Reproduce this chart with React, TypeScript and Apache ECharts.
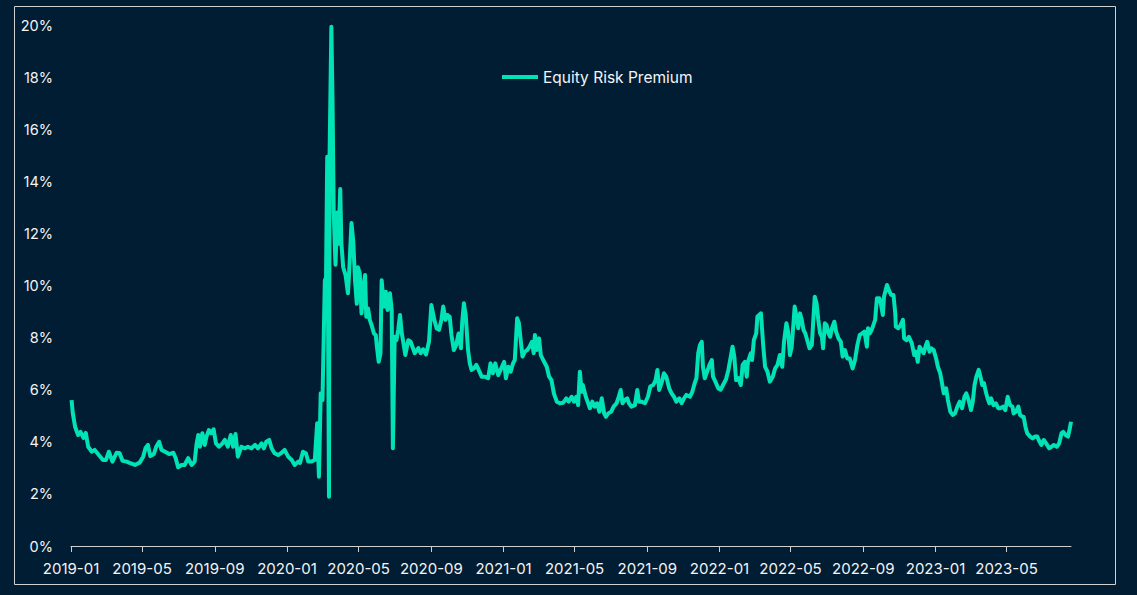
import React, { useEffect, useRef } from "react";
import * as echarts from "echarts";

const seriesName = "Equity Risk Premium";

const tickLabels = [
  "2019-01", "2019-05", "2019-09", "2020-01", "2020-05", "2020-09", "2021-01",
  "2021-05", "2021-09", "2022-01", "2022-05", "2022-09", "2023-01", "2023-05",
];

const axisStart = "2019-01-01";
const axisEnd = "2023-08-18";

const dates = [
  "2019-01-02", "2019-01-04", "2019-01-08", "2019-01-13", "2019-01-17", "2019-01-22", "2019-01-26", "2019-01-30",
  "2019-02-05", "2019-02-10", "2019-02-17", "2019-02-24",
  "2019-03-01", "2019-03-06", "2019-03-12", "2019-03-19", "2019-03-24", "2019-03-29",
  "2019-04-05", "2019-04-10", "2019-04-19", "2019-04-27",
  "2019-05-03", "2019-05-07", "2019-05-11", "2019-05-15", "2019-05-21", "2019-05-25", "2019-05-30",
  "2019-06-03", "2019-06-09", "2019-06-16", "2019-06-23", "2019-06-27",
  "2019-07-01", "2019-07-07", "2019-07-12", "2019-07-18", "2019-07-24", "2019-07-29",
  "2019-08-01", "2019-08-04", "2019-08-07", "2019-08-11", "2019-08-15", "2019-08-18", "2019-08-22", "2019-08-26", "2019-08-30",
  "2019-09-03", "2019-09-08", "2019-09-14", "2019-09-18", "2019-09-23", "2019-09-28",
  "2019-10-02", "2019-10-06", "2019-10-10", "2019-10-16", "2019-10-22", "2019-10-27",
  "2019-11-02", "2019-11-08", "2019-11-13", "2019-11-19", "2019-11-23", "2019-11-27",
  "2019-12-02", "2019-12-06", "2019-12-11", "2019-12-17", "2019-12-23", "2019-12-28",
  "2020-01-03", "2020-01-09", "2020-01-14", "2020-01-20", "2020-01-23", "2020-01-28",
  "2020-02-02", "2020-02-06", "2020-02-11", "2020-02-17", "2020-02-21", "2020-02-24", "2020-02-27",
  "2020-03-01", "2020-03-05", "2020-03-07", "2020-03-09", "2020-03-12", "2020-03-13", "2020-03-16", "2020-03-18", "2020-03-20", "2020-03-23", "2020-03-26", "2020-03-28", "2020-03-31",
  "2020-04-02", "2020-04-05", "2020-04-09", "2020-04-13", "2020-04-15", "2020-04-19", "2020-04-22", "2020-04-25", "2020-04-28", "2020-04-30",
  "2020-05-03", "2020-05-06", "2020-05-09", "2020-05-12", "2020-05-14", "2020-05-17", "2020-05-20", "2020-05-23", "2020-05-27", "2020-05-30",
  "2020-06-01", "2020-06-04", "2020-06-07", "2020-06-09", "2020-06-13", "2020-06-16", "2020-06-19", "2020-06-23", "2020-06-26", "2020-06-28",
  "2020-07-01", "2020-07-04", "2020-07-07", "2020-07-10", "2020-07-13", "2020-07-15", "2020-07-19", "2020-07-24", "2020-07-28",
  "2020-08-04", "2020-08-10", "2020-08-14", "2020-08-18", "2020-08-23", "2020-08-28",
  "2020-09-01", "2020-09-06", "2020-09-10", "2020-09-14", "2020-09-18", "2020-09-21", "2020-09-25", "2020-09-28",
  "2020-10-02", "2020-10-05", "2020-10-09", "2020-10-13", "2020-10-17", "2020-10-21", "2020-10-23", "2020-10-26", "2020-10-29",
  "2020-11-02", "2020-11-05", "2020-11-08", "2020-11-12", "2020-11-16", "2020-11-20", "2020-11-25", "2020-11-30",
  "2020-12-06", "2020-12-10", "2020-12-14", "2020-12-18", "2020-12-23", "2020-12-27",
  "2021-01-02", "2021-01-05", "2021-01-09", "2021-01-13", "2021-01-17", "2021-01-20", "2021-01-24", "2021-01-27", "2021-01-30",
  "2021-02-02", "2021-02-06", "2021-02-10", "2021-02-14", "2021-02-18", "2021-02-21", "2021-02-23", "2021-02-26",
  "2021-03-02", "2021-03-05", "2021-03-09", "2021-03-15", "2021-03-19", "2021-03-23", "2021-03-27",
  "2021-04-01", "2021-04-06", "2021-04-12", "2021-04-17", "2021-04-21", "2021-04-26", "2021-04-30",
  "2021-05-04", "2021-05-07", "2021-05-10", "2021-05-13", "2021-05-15", "2021-05-20", "2021-05-23", "2021-05-27", "2021-05-31",
  "2021-06-04", "2021-06-08", "2021-06-12", "2021-06-16", "2021-06-20", "2021-06-23", "2021-06-27",
  "2021-07-02", "2021-07-06", "2021-07-11", "2021-07-14", "2021-07-18", "2021-07-21", "2021-07-25", "2021-07-29",
  "2021-08-01", "2021-08-05", "2021-08-11", "2021-08-15", "2021-08-18", "2021-08-22", "2021-08-28",
  "2021-09-02", "2021-09-06", "2021-09-11", "2021-09-15", "2021-09-18", "2021-09-21", "2021-09-25", "2021-09-29",
  "2021-10-03", "2021-10-08", "2021-10-12", "2021-10-16", "2021-10-20", "2021-10-25", "2021-10-29",
  "2021-11-02", "2021-11-06", "2021-11-12", "2021-11-16", "2021-11-20", "2021-11-23", "2021-11-26", "2021-11-29",
  "2021-12-02", "2021-12-04", "2021-12-07", "2021-12-11", "2021-12-15", "2021-12-19", "2021-12-21", "2021-12-25", "2021-12-30",
  "2022-01-03", "2022-01-07", "2022-01-12", "2022-01-16", "2022-01-20", "2022-01-23", "2022-01-26", "2022-01-29",
  "2022-02-02", "2022-02-06", "2022-02-09", "2022-02-13", "2022-02-16", "2022-02-18", "2022-02-23", "2022-02-25", "2022-02-28",
  "2022-03-04", "2022-03-06", "2022-03-09", "2022-03-12", "2022-03-16", "2022-03-19", "2022-03-23", "2022-03-27",
  "2022-04-01", "2022-04-05", "2022-04-09", "2022-04-13", "2022-04-17", "2022-04-20", "2022-04-24", "2022-04-27", "2022-04-30",
  "2022-05-03", "2022-05-06", "2022-05-08", "2022-05-11", "2022-05-14", "2022-05-17", "2022-05-20", "2022-05-23", "2022-05-26", "2022-05-30",
  "2022-06-02", "2022-06-06", "2022-06-08", "2022-06-11", "2022-06-14", "2022-06-17", "2022-06-20", "2022-06-23", "2022-06-25", "2022-06-28",
  "2022-07-01", "2022-07-04", "2022-07-07", "2022-07-10", "2022-07-14", "2022-07-17", "2022-07-21", "2022-07-25", "2022-07-28",
  "2022-08-01", "2022-08-05", "2022-08-09", "2022-08-14", "2022-08-18", "2022-08-22", "2022-08-26", "2022-08-30",
  "2022-09-03", "2022-09-07", "2022-09-09", "2022-09-12", "2022-09-15", "2022-09-18", "2022-09-21", "2022-09-24", "2022-09-28", "2022-09-30",
  "2022-10-04", "2022-10-06", "2022-10-11", "2022-10-14", "2022-10-18", "2022-10-22", "2022-10-25", "2022-10-26", "2022-10-30",
  "2022-11-03", "2022-11-07", "2022-11-09", "2022-11-13", "2022-11-17", "2022-11-22", "2022-11-26", "2022-11-29",
  "2022-12-02", "2022-12-05", "2022-12-09", "2022-12-12", "2022-12-16", "2022-12-18", "2022-12-22", "2022-12-25", "2022-12-29",
  "2023-01-02", "2023-01-05", "2023-01-09", "2023-01-12", "2023-01-15", "2023-01-19", "2023-01-22", "2023-01-26", "2023-01-30",
  "2023-02-03", "2023-02-07", "2023-02-11", "2023-02-15", "2023-02-19", "2023-02-22", "2023-02-26",
  "2023-03-02", "2023-03-05", "2023-03-08", "2023-03-11", "2023-03-15", "2023-03-18", "2023-03-21", "2023-03-24", "2023-03-27", "2023-03-30",
  "2023-04-02", "2023-04-05", "2023-04-09", "2023-04-13", "2023-04-17", "2023-04-21", "2023-04-25", "2023-04-29",
  "2023-05-03", "2023-05-07", "2023-05-11", "2023-05-13", "2023-05-17", "2023-05-21", "2023-05-24", "2023-05-28", "2023-05-30",
  "2023-06-02", "2023-06-05", "2023-06-10", "2023-06-14", "2023-06-18", "2023-06-22", "2023-06-26", "2023-06-29",
  "2023-07-03", "2023-07-07", "2023-07-12", "2023-07-16", "2023-07-20", "2023-07-25", "2023-07-29",
  "2023-08-02", "2023-08-05", "2023-08-09", "2023-08-13", "2023-08-16", "2023-08-18",
];

const erp = [
  5.6, 5.1, 4.57, 4.26, 4.38, 4.15, 4.34, 3.81,
  3.62, 3.69, 3.49, 3.3,
  3.3, 3.62, 3.24, 3.58, 3.57, 3.27,
  3.24, 3.19, 3.11, 3.2,
  3.43, 3.76, 3.88, 3.45, 3.53, 3.81, 4.0,
  3.69, 3.62, 3.53, 3.58, 3.37,
  3.02, 3.11, 3.11, 3.37, 3.11, 3.24,
  3.88, 4.26, 3.81, 4.33, 3.88, 4.2, 4.45, 4.33, 4.48,
  3.94, 3.81, 3.94, 4.07, 3.81, 4.26,
  3.81, 4.3, 3.43, 3.81, 3.75, 3.81,
  3.75, 3.88, 3.75, 3.94, 3.75, 4.0,
  4.07, 3.75, 3.56, 3.49, 3.58, 3.69,
  3.43, 3.3, 3.11, 3.24, 3.19, 3.62,
  3.56, 3.24, 3.24, 3.3, 4.71, 2.66, 5.86,
  5.6, 10.2, 10.3, 14.94, 1.89, 15.0, 19.93, 17.1, 12.8, 10.8, 12.8, 11.6, 13.7,
  11.6, 10.7, 10.4, 9.7, 10.47, 12.4, 11.7, 10.2, 9.3, 10.7,
  10.47, 8.93, 9.95, 10.4, 8.8, 9.12, 8.68, 8.48, 8.16, 8.1,
  7.65, 7.07, 7.4, 10.2, 9.19, 9.76, 9.06, 9.7, 9.06, 3.75,
  8.03, 7.9, 8.29, 8.87, 8.17, 7.9, 7.33, 7.9, 7.84,
  7.4, 7.6, 7.4, 7.55, 7.35, 7.85,
  9.25, 8.68, 8.35, 8.3, 8.68, 9.19, 8.68, 8.87,
  8.8, 8.1, 7.52, 7.72, 8.16, 7.59, 8.55, 9.32, 8.87,
  7.52, 7.01, 6.76, 6.82, 6.95, 6.76, 6.5, 6.5,
  6.44, 7.01, 6.63, 7.01, 6.56, 6.76,
  7.07, 6.44, 6.88, 6.69, 7.01, 7.14, 8.74, 8.55, 7.9,
  7.27, 7.46, 7.52, 7.65, 7.84, 7.4, 8.1, 7.52,
  7.97, 7.33, 7.14, 6.88, 6.5, 6.37, 5.86,
  5.54, 5.48, 5.5, 5.67, 5.54, 5.73, 5.54,
  5.73, 5.41, 6.69, 5.92, 6.18, 5.73, 5.54, 5.29, 5.54,
  5.35, 5.48, 5.16, 5.67, 5.09, 4.96, 5.09,
  5.16, 5.35, 5.48, 5.67, 5.99, 5.48, 5.6, 5.67,
  5.48, 5.35, 5.41, 5.99, 5.54, 5.54, 5.48,
  5.73, 6.12, 6.18, 6.37, 6.76, 5.99, 6.25, 6.63,
  6.5, 6.05, 5.86, 5.73, 5.54, 5.67, 5.48,
  5.67, 5.8, 5.73, 5.92, 6.25, 6.44, 7.4, 7.72,
  7.84, 6.88, 6.44, 6.69, 6.95, 7.14, 6.5, 6.31, 6.05,
  6.0, 6.18, 6.4, 6.76, 7.27, 7.65, 7.27, 6.37,
  6.44, 6.18, 6.95, 7.07, 6.5, 7.07, 7.4, 7.14, 7.9,
  8.16, 8.8, 8.87, 8.93, 7.65, 6.88, 6.69, 6.31,
  6.5, 6.82, 6.95, 7.33, 6.88, 7.84, 8.55, 8.23, 7.33,
  7.65, 8.55, 9.19, 8.8, 8.36, 8.93, 8.68, 8.29, 8.16, 7.84,
  7.59, 7.72, 8.48, 9.57, 9.32, 8.68, 8.16, 8.03, 7.59, 8.55,
  8.48, 8.16, 8.03, 8.36, 8.61, 8.23, 7.97, 7.84, 7.27,
  7.52, 7.2, 7.2, 6.82, 7.14, 7.72, 8.1, 8.16,
  8.23, 7.65, 8.36, 8.16, 8.29, 8.48, 8.68, 9.51, 9.51, 9.38,
  8.87, 9.57, 10.02, 9.83, 9.64, 9.64, 8.93, 8.42, 8.36,
  8.48, 8.68, 7.97, 7.9, 8.03, 7.78, 7.33, 7.46,
  7.07, 7.65, 7.52, 7.4, 7.72, 7.84, 7.46, 7.59, 7.52,
  7.2, 6.88, 6.63, 6.25, 5.86, 6.05, 5.6, 5.16, 5.03,
  5.09, 5.35, 5.54, 5.29, 5.73, 5.86, 5.6,
  5.22, 5.54, 6.18, 6.5, 6.76, 6.5, 6.18, 6.25, 5.92, 5.67,
  5.48, 5.67, 5.41, 5.48, 5.29, 5.29, 5.35, 5.22,
  5.73, 5.41, 5.35, 5.09, 5.16, 5.35, 5.03, 4.96, 4.96,
  4.58, 4.33, 4.2, 4.13, 4.2, 4.2, 4.0, 3.88,
  4.07, 3.94, 3.75, 3.81, 3.88, 3.81, 3.94,
  4.33, 4.38, 4.26, 4.2, 4.52, 4.77,
];

const toTime = (s: string) => {
  const parts = s.split("-").map(Number);
  return new Date(parts[0], parts[1] - 1, parts[2] || 1).getTime();
};

const FONT = "Inter, 'Noto Sans', sans-serif";
const BG = "#011d33";
const LINE = "#00e3b4";
const TEXT = "#f4f4f4";
const AXIS = "#d0d0d0";

export default function App() {
  const ref = useRef<HTMLDivElement>(null);

  useEffect(() => {
    if (!ref.current) return;
    const chart = echarts.init(ref.current, null, { renderer: "svg" });
    const tickValues = tickLabels.map(toTime);
    chart.setOption({
      animation: false,
      backgroundColor: BG,
      textStyle: { fontFamily: FONT },
      grid: { left: 71, right: 66, top: 25, bottom: 49, containLabel: false },
      legend: {
        data: [seriesName],
        left: 502,
        top: 69,
        padding: 0,
        icon: "rect",
        itemWidth: 36,
        itemHeight: 4,
        itemStyle: { color: LINE },
        textStyle: { color: TEXT, fontSize: 15.5, fontFamily: FONT },
      },
      graphic: [
        {
          type: "rect",
          silent: true,
          shape: { x: 14.5, y: 6.5, width: 1101, height: 578 },
          style: { fill: "none", stroke: AXIS, lineWidth: 1 },
        },
      ],
      xAxis: {
        type: "value",
        min: toTime(axisStart),
        max: toTime(axisEnd),
        axisLine: { show: true, lineStyle: { color: AXIS, width: 1 } },
        axisTick: {
          show: true,
          customValues: tickValues,
          length: 6,
          lineStyle: { color: AXIS },
        },
        axisLabel: {
          customValues: tickValues,
          color: TEXT,
          fontSize: 15,
          fontFamily: FONT,
          margin: 15,
          hideOverlap: false,
          formatter: (v: number) => {
            const d = new Date(v);
            return d.getFullYear() + "-" + String(d.getMonth() + 1).padStart(2, "0");
          },
        },
        splitLine: { show: false },
      },
      yAxis: {
        type: "value",
        min: 0,
        max: 20,
        interval: 2,
        axisLine: { show: false },
        axisTick: { show: false },
        splitLine: { show: false },
        axisLabel: {
          formatter: "{value}%",
          color: TEXT,
          fontSize: 14.5,
          fontFamily: FONT,
          margin: 18,
        },
      },
      series: [
        {
          name: seriesName,
          type: "line",
          symbol: "none",
          showSymbol: false,
          data: dates.map((d, i) => [toTime(d), erp[i]]),
          lineStyle: { color: LINE, width: 4, join: "round" },
          itemStyle: { color: LINE },
        },
      ],
    });
    return () => chart.dispose();
  }, []);

  return (
    <div
      ref={ref}
      style={{ position: "fixed", left: 0, top: 0, width: 1137, height: 595 }}
    />
  );
}
